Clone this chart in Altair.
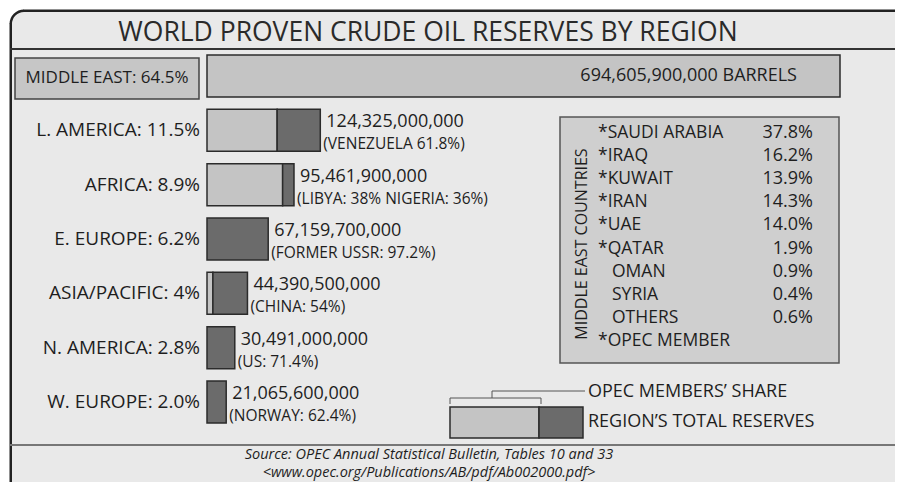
import altair as alt
import pandas as pd

# ---------------- data ----------------
regions = ["MIDDLE EAST", "L. AMERICA", "AFRICA", "E. EUROPE", "ASIA/PACIFIC", "N. AMERICA", "W. EUROPE"]
world_share = ["64.5%", "11.5%", "8.9%", "6.2%", "4%", "2.8%", "2.0%"]
reserves_barrels = [694605900000, 124325000000, 95461900000, 67159700000, 44390500000, 30491000000, 21065600000]
# OPEC members' part of each region (billion barrels)
opec_part_bn = [694.6059, 77.0, 83.0, 0.0, 6.5, 0.0, 0.0]
notes = ["", "(VENEZUELA  61.8%)", "(LIBYA: 38% NIGERIA: 36%)", "(FORMER USSR: 97.2%)",
         "(CHINA: 54%)", "(US: 71.4%)", "(NORWAY: 62.4%)"]

countries = ["SAUDI ARABIA", "IRAQ", "KUWAIT", "IRAN", "UAE", "QATAR", "OMAN", "SYRIA", "OTHERS"]
country_share = ["37.8%", "16.2%", "13.9%", "14.3%", "14.0%", "1.9%", "0.9%", "0.4%", "0.6%"]
opec_member = [True, True, True, True, True, True, False, False, False]

title_text = "WORLD PROVEN CRUDE OIL RESERVES BY REGION"
source_lines = ["Source: OPEC Annual Statistical Bulletin, Tables 10 and 33",
                "<www.opec.org/Publications/AB/pdf/Ab002000.pdf>"]

# ---------------- tables ----------------
totals_bn = [r / 1e9 for r in reserves_barrels]
rows = pd.DataFrame({
    "i": list(range(len(regions))),
    "region": regions,
    "share": world_share,
    "total": totals_bn,
    "note": notes,
    "value_label": [f"{r:,}" for r in reserves_barrels],
    "row_label": [f"{a}: {b}" for a, b in zip(regions, world_share)],
})
seg = []
for i, (t, o) in enumerate(zip(totals_bn, opec_part_bn)):
    if o > 0:
        seg.append({"i": i, "x0": 0.0, "x1": min(o, t), "part": "opec"})
    if t > o:
        seg.append({"i": i, "x0": o, "x1": t, "part": "non"})
seg = pd.DataFrame(seg)

cdf = pd.DataFrame({
    "k": list(range(len(countries))) + [len(countries)],
    "label": [("*" + c) if m else c for c, m in zip(countries, opec_member)] + ["*OPEC MEMBER"],
    "pct": country_share + [""],
    "member": opec_member + [True],
})

# ---------------- style ----------------
FONT = "Open Sans"
INK = "#1e1e1e"
LIGHT = "#c4c4c4"
DARK = "#6b6b6b"
BG = "#e9e9e9"
W, H = 887, 474

xs = alt.Scale(domain=[0, 694.6059], range=[199, 832], nice=False, zero=False, padding=0)
ys = alt.Scale(domain=[0, 6], range=[68, 394], nice=False, zero=False, padding=0)
cys = alt.Scale(domain=[0, 9], range=[125, 333], nice=False, zero=False, padding=0)

one = pd.DataFrame({"a": [0]})

# frame: fill, rounded top-left corner, left and top borders (right/bottom run off the picture)
frame_fill = alt.Chart(one).mark_rect(fill=BG, cornerRadiusTopLeft=14).encode(
    x=alt.value(2), x2=alt.value(W), y=alt.value(2), y2=alt.value(H))
corner = alt.Chart(one).mark_arc(color="#222").encode(
    x=alt.value(16), y=alt.value(16), theta=alt.value(4.7124), theta2=alt.value(6.2832),
    radius=alt.value(14.5), radius2=alt.value(12))
top_border = alt.Chart(one).mark_rule(color="#222", strokeWidth=2.5).encode(
    x=alt.value(15.5), x2=alt.value(W), y=alt.value(2.75))
left_border = alt.Chart(one).mark_rule(color="#222", strokeWidth=2.5).encode(
    x=alt.value(2.75), y=alt.value(15.5), y2=alt.value(H))

title = alt.Chart(one).mark_text(text=title_text, font=FONT, fontSize=26.5, color="#2a2a2a",
                                 align="center", baseline="middle").encode(x=alt.value(420), y=alt.value(25))
title_rule = alt.Chart(one).mark_rule(color="#333", strokeWidth=2).encode(
    x=alt.value(2), x2=alt.value(W), y=alt.value(41))
foot_rule = alt.Chart(one).mark_rule(color="#777", strokeWidth=2).encode(
    x=alt.value(2), x2=alt.value(W), y=alt.value(437))

src = pd.DataFrame({"line": source_lines, "n": [0, 1]})
source = alt.Chart(src).mark_text(font=FONT, fontSize=14.5, fontStyle="italic", color=INK,
                                  align="center", baseline="middle").encode(
    x=alt.value(421),
    y=alt.Y("n:Q", scale=alt.Scale(domain=[0, 1], range=[447, 465], nice=False, zero=False, padding=0), axis=None),
    text="line:N")

me_box = alt.Chart(one).mark_rect(fill="#c6c6c6", stroke="#444", strokeWidth=1.5).encode(
    x=alt.value(7), x2=alt.value(191), y=alt.value(50), y2=alt.value(91))
me_label = alt.Chart(rows[rows.i == 0]).mark_text(font=FONT, fontSize=17, color=INK, align="center",
                                                  baseline="middle", dy=2).encode(
    x=alt.value(99), y=alt.Y("i:Q", scale=ys, axis=None), text="row_label:N")

bars = alt.Chart(seg).mark_bar(size=42, orient="horizontal", stroke="#2b2b2b", strokeWidth=1.5).encode(
    x=alt.X("x0:Q", scale=xs, axis=None),
    x2="x1:Q",
    y=alt.Y("i:Q", scale=ys, axis=None),
    color=alt.Color("part:N", scale=alt.Scale(domain=["opec", "non"], range=[LIGHT, DARK]), legend=None))

me_value = alt.Chart(rows[rows.i == 0]).transform_calculate(
    txt="datum.value_label + ' BARRELS'").mark_text(
    font=FONT, fontSize=18, color=INK, align="right", baseline="middle", dx=-43).encode(
    x=alt.X("total:Q", scale=xs, axis=None), y=alt.Y("i:Q", scale=ys, axis=None), text="txt:N")

lower = rows[rows.i > 0]
row_labels = alt.Chart(lower).transform_calculate(base="0").mark_text(
    font=FONT, fontSize=19, color=INK, align="right", baseline="middle", dx=-7).encode(
    x=alt.X("base:Q", scale=xs, axis=None), y=alt.Y("i:Q", scale=ys, axis=None), text="row_label:N")
value_labels = alt.Chart(lower).mark_text(
    font=FONT, fontSize=18, color=INK, align="left", baseline="middle", dx=6, dy=-8).encode(
    x=alt.X("total:Q", scale=xs, axis=None), y=alt.Y("i:Q", scale=ys, axis=None), text="value_label:N")
note_labels = alt.Chart(lower).mark_text(
    font=FONT, fontSize=15.5, color=INK, align="left", baseline="middle", dx=3, dy=14).encode(
    x=alt.X("total:Q", scale=xs, axis=None), y=alt.Y("i:Q", scale=ys, axis=None), text="note:N")

cbox = alt.Chart(one).mark_rect(fill="#cfcfcf", stroke="#555", strokeWidth=1.5).encode(
    x=alt.value(552), x2=alt.value(831), y=alt.value(109), y2=alt.value(355))
cside = alt.Chart(one).mark_text(text="MIDDLE EAST COUNTRIES", font=FONT, fontSize=16, color=INK,
                                 angle=270, align="center", baseline="middle").encode(
    x=alt.value(574), y=alt.value(236))
cnames_m = alt.Chart(cdf).transform_filter("datum.member").mark_text(
    font=FONT, fontSize=17.5, color=INK, align="left", baseline="middle").encode(
    x=alt.value(590), y=alt.Y("k:Q", scale=cys, axis=None), text="label:N")
cnames_o = alt.Chart(cdf).transform_filter("!datum.member").mark_text(
    font=FONT, fontSize=17.5, color=INK, align="left", baseline="middle").encode(
    x=alt.value(604), y=alt.Y("k:Q", scale=cys, axis=None), text="label:N")
cpct = alt.Chart(cdf).mark_text(font=FONT, fontSize=18, color=INK, align="right", baseline="middle").encode(
    x=alt.value(805), y=alt.Y("k:Q", scale=cys, axis=None), text="pct:N")

# legend (explanatory key)
lg_light = alt.Chart(one).mark_rect(fill=LIGHT, stroke="#2b2b2b", strokeWidth=1.5).encode(
    x=alt.value(442), x2=alt.value(531), y=alt.value(399), y2=alt.value(430))
lg_dark = alt.Chart(one).mark_rect(fill=DARK, stroke="#2b2b2b", strokeWidth=1.5).encode(
    x=alt.value(531), x2=alt.value(575), y=alt.value(399), y2=alt.value(430))
br_color = "#555"
br1 = alt.Chart(one).mark_rule(color=br_color, strokeWidth=1).encode(x=alt.value(442), x2=alt.value(533), y=alt.value(390))
br2 = alt.Chart(one).mark_rule(color=br_color, strokeWidth=1).encode(x=alt.value(442), y=alt.value(390), y2=alt.value(396))
br3 = alt.Chart(one).mark_rule(color=br_color, strokeWidth=1).encode(x=alt.value(533), y=alt.value(390), y2=alt.value(396))
br4 = alt.Chart(one).mark_rule(color=br_color, strokeWidth=1).encode(x=alt.value(484), y=alt.value(383), y2=alt.value(390))
br5 = alt.Chart(one).mark_rule(color=br_color, strokeWidth=1).encode(x=alt.value(484), x2=alt.value(577), y=alt.value(383))
lg_t1 = alt.Chart(one).mark_text(text="OPEC MEMBERS\u2019 SHARE", font=FONT, fontSize=18, color=INK,
                                 align="left", baseline="middle").encode(x=alt.value(580), y=alt.value(384))
lg_t2 = alt.Chart(one).mark_text(text="REGION\u2019S TOTAL RESERVES", font=FONT, fontSize=18, color=INK,
                                 align="left", baseline="middle").encode(x=alt.value(580), y=alt.value(414))

chart = alt.layer(
    frame_fill, corner, top_border, left_border, title, title_rule, foot_rule, source,
    me_box, me_label, bars, me_value, row_labels, value_labels, note_labels,
    cbox, cside, cnames_m, cnames_o, cpct,
    lg_light, lg_dark, br1, br2, br3, br4, br5, lg_t1, lg_t2,
).resolve_scale(y="independent", x="independent").properties(
    width=W, height=H, padding=0, autosize=alt.AutoSizeParams(type="none"), background="white"
).configure_view(stroke=None)

chart.save("out.html", embed_options={"renderer": "svg", "actions": False})
